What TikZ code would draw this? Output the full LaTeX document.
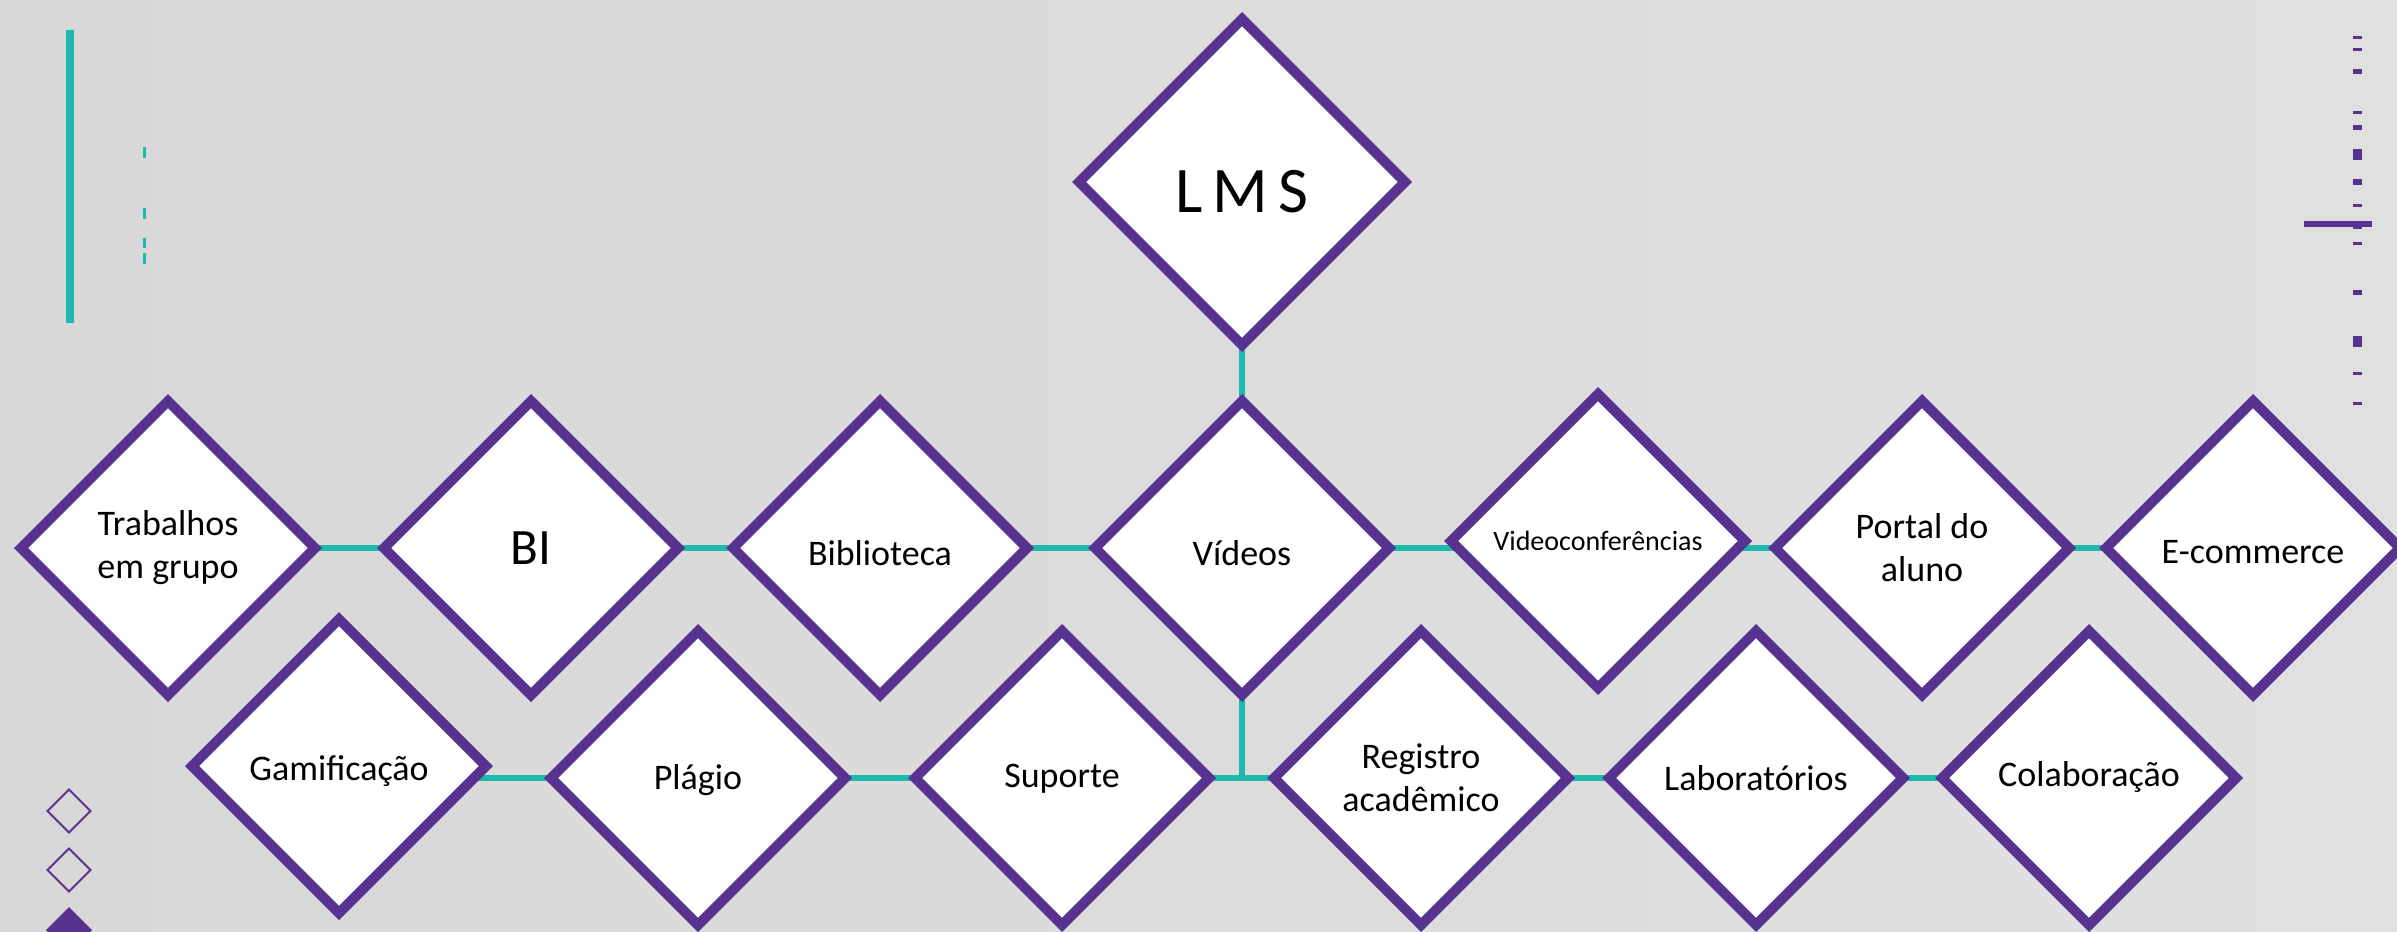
\documentclass[tikz,border=0pt]{standalone}
\usepackage{fontspec}
\setmainfont{Carlito}
\usetikzlibrary{shapes.geometric,backgrounds}
\definecolor{purp}{RGB}{88,50,145}
\definecolor{tealc}{RGB}{29,185,172}
\definecolor{bgL}{RGB}{216,216,216}
\definecolor{bgM}{RGB}{234,234,234}
\definecolor{bgR}{RGB}{224,224,224}
\begin{document}
\begin{tikzpicture}[x=1pt,y=-1pt,
  dia/.style={shape=diamond, draw=purp, line width=10pt, fill=white,
    minimum width=298pt, minimum height=298pt, inner sep=0pt, align=center,
    font=\fontsize{36}{43}\selectfont},
  tb/.style={text height=#1, text depth=0pt},
  conn/.style={draw=tealc, line width=6pt},
  tick/.style={fill=purp},
  mini/.style={draw=purp, line width=2pt}]
\useasboundingbox (0,0) rectangle (2397,931);
\clip (0,0) rectangle (2397,931);

% decorations left
\fill[tealc] (66,30) rectangle (74,323);
\foreach \a/\b in {147/158, 208/219, 238/248, 253/264}
  \fill[tealc] (143,\a) rectangle (146,\b);

% decorations right
\foreach \c/\h in {37.7/3, 50/3, 71.7/5.5, 113/3, 127.7/5.5, 154.5/11, 181.8/5.5,
  205.7/3, 227.7/3, 243.3/3, 292.7/5.5, 341/11, 373.7/3, 403.7/3}
  \fill[tick] (2353,\c-\h/2) rectangle (2362,\c+\h/2);
\fill[tick] (2304,220.7) rectangle (2372,227.3);

% decorations bottom left
\draw[mini] (69,789.5) -- (90.5,811) -- (69,832.5) -- (47.5,811) -- cycle;
\draw[mini] (69,848.5) -- (90.5,870) -- (69,891.5) -- (47.5,870) -- cycle;
\fill[purp] (69,907) -- (92,930) -- (69,953) -- (46,930) -- cycle;

% main diamonds
\node[dia, minimum width=330pt, minimum height=330pt, tb=60pt,
  font=\fontsize{65}{78}\selectfont] (lms) at (1242,182) {L\hspace{10pt}M\hspace{10pt}S};

\node[dia] (trab) at (168,548) {Trabalhos\\em grupo};
\node[dia, tb=32pt, font=\fontsize{51}{60}\selectfont] (bi) at (531,548) {BI};
\node[dia, tb=34pt] (bib) at (880,548) {Biblioteca};
\node[dia, tb=34pt] (vid) at (1242,548) {Vídeos};
\node[dia, tb=18pt, font=\fontsize{28}{34}\selectfont] (vc) at (1598,541) {Videoconferências};
\node[dia] (pa) at (1922,548) {Portal do\\aluno};
\node[dia, tb=30pt] (ec) at (2253,548) {E-commerce};

\node[dia, tb=28pt] (gam) at (339,766) {Gamificação};
\node[dia, tb=22pt] (pla) at (698,778) {Plágio};
\node[dia, tb=18pt] (sup) at (1062,778) {Suporte};
\node[dia] (reg) at (1421,778) {Registro\\acadêmico};
\node[dia, tb=24pt] (lab) at (1756,778) {Laboratórios};
\node[dia, tb=16pt] (col) at (2089,778) {Colaboração};

\begin{pgfonlayer}{background}
  \shade[left color=bgL, middle color=bgM, right color=bgR] (0,0) rectangle (2397,931);
  \draw[conn] (lms.center) -- (vid.center);
  \draw[conn] (trab.center) -- (bi.center);
  \draw[conn] (bi.center) -- (bib.center);
  \draw[conn] (bib.center) -- (vid.center);
  \draw[conn] (vid.center) -- (vid.center -| vc.center);
  \draw[conn] (vid.center -| vc.center) -- (pa.center);
  \draw[conn] (pa.center) -- (ec.center);
  \draw[conn] (vid.center) -- (vid.center |- sup.center);
  \draw[conn] (gam.center |- pla.center) -- (pla.center);
  \draw[conn] (pla.center) -- (sup.center);
  \draw[conn] (sup.center) -- (reg.center);
  \draw[conn] (reg.center) -- (lab.center);
  \draw[conn] (lab.center) -- (col.center);
\end{pgfonlayer}
\end{tikzpicture}
\end{document}
